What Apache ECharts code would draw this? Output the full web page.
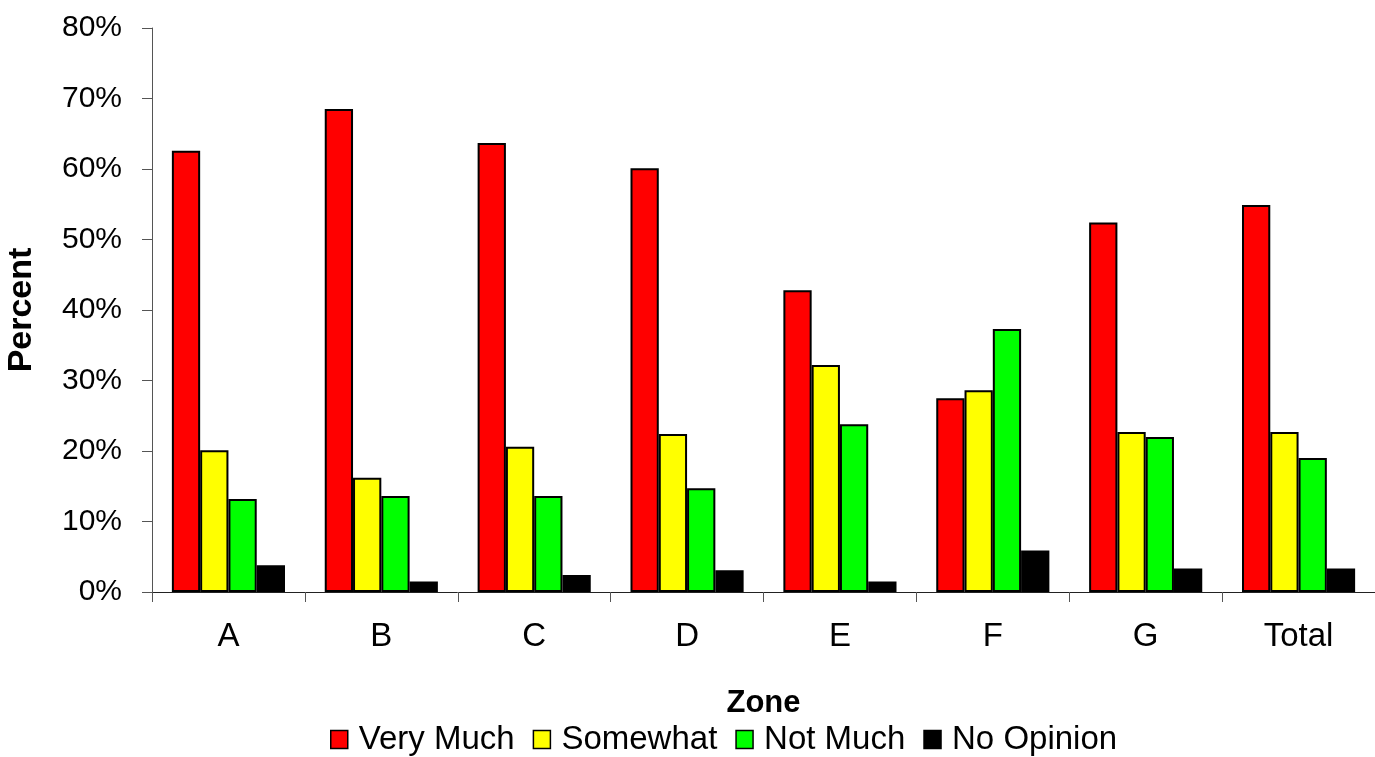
<!DOCTYPE html>
<html>
<head>
<meta charset="utf-8">
<script src="https://cdn.jsdelivr.net/npm/echarts@6/dist/echarts.min.js"></script>
<style>
html,body{margin:0;padding:0;background:#fff;}
#chart{width:1375px;height:757px;}
</style>
</head>
<body>
<div id="chart"></div>
<script>
const categories = ['A', 'B', 'C', 'D', 'E', 'F', 'G', 'Total'];
const veryMuch  = [62.6, 68.5, 63.7, 60.1, 42.8, 27.5, 52.4, 54.9];
const somewhat  = [20.1, 16.2, 20.6, 22.4, 32.2, 28.6, 22.7, 22.7];
const notMuch   = [13.2, 13.6, 13.6, 14.7, 23.8, 37.3, 22.0, 19.0];
const noOpinion = [3.8, 1.5, 2.4, 3.1, 1.5, 5.9, 3.35, 3.35];
const seriesNames = ['Very Much', 'Somewhat', 'Not Much', 'No Opinion'];
const yTicks = [0, 10, 20, 30, 40, 50, 60, 70, 80];

const FONT = '"Liberation Sans", Arial, sans-serif';
const colors = ['#FF0000', '#FFFF00', '#00FF00', '#000000'];
const seriesData = [veryMuch, somewhat, notMuch, noOpinion];

const chart = echarts.init(document.getElementById('chart'), null, {renderer: 'canvas'});
chart.setOption({
  animation: false,
  backgroundColor: '#ffffff',
  textStyle: {fontFamily: FONT},
  grid: {left: 152, right: 0, top: 28, bottom: 165, containLabel: false, outerBoundsMode: 'none'},
  legend: {
    data: seriesNames,
    left: 330,
    top: 723,
    padding: 0,
    itemWidth: 17,
    itemHeight: 18,
    itemGap: 18,
    icon: 'rect',
    itemStyle: {borderColor: '#000', borderWidth: 1.5},
    textStyle: {fontFamily: FONT, fontSize: 33, color: '#000', padding: [0, 0, 0, 6]}
  },
  xAxis: {
    type: 'category',
    data: categories,
    name: 'Zone',
    nameLocation: 'middle',
    nameGap: 96,
    nameTextStyle: {fontFamily: FONT, fontSize: 31, fontWeight: 'bold', color: '#000'},
    axisLine: {lineStyle: {color: '#222', width: 1}},
    axisTick: {show: true, length: 10, lineStyle: {color: '#555'}},
    axisLabel: {fontFamily: FONT, fontSize: 33, color: '#000', margin: 28}
  },
  yAxis: {
    type: 'value',
    min: 0,
    max: 80,
    interval: 10,
    name: 'Percent',
    nameLocation: 'middle',
    nameRotate: 90,
    nameGap: 113,
    nameTextStyle: {fontFamily: FONT, fontSize: 34, fontWeight: 'bold', color: '#000'},
    splitLine: {show: false},
    axisLine: {show: true, lineStyle: {color: '#555', width: 1}},
    axisTick: {show: true, length: 10, lineStyle: {color: '#555'}},
    axisLabel: {
      fontFamily: FONT, fontSize: 30, color: '#000', margin: 30,
      formatter: function (v) { return yTicks.indexOf(v) >= 0 ? v + '%' : ''; }
    }
  },
  series: seriesNames.map(function (name, i) {
    return {
      name: name,
      type: 'bar',
      data: seriesData[i],
      barGap: '0%',
      barCategoryGap: '26%',
      itemStyle: {color: colors[i], borderColor: '#000', borderWidth: 2}
    };
  })
});
</script>
</body>
</html>
